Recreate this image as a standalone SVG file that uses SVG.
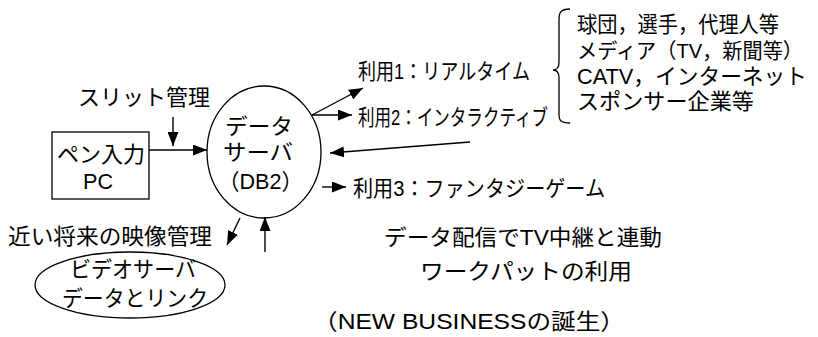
<svg xmlns="http://www.w3.org/2000/svg" width="818" height="337" viewBox="0 0 818 337">
<defs>
<marker id="ah" markerWidth="14" markerHeight="11" refX="14" refY="5.5" orient="auto" markerUnits="userSpaceOnUse">
<path d="M0,0 L14,5.5 L0,11 Z" fill="#000"/>
</marker>
</defs>
<style>
text{font-family:"Liberation Sans","Noto Sans CJK JP",sans-serif;font-size:22px;fill:#000}
.s{fill:none;stroke:#000;stroke-width:1.3}
.c{stroke:#000;stroke-width:1.4;fill:none;marker-end:url(#ah)}
</style>
<rect width="818" height="337" fill="#fff"/>
<g id="slit"><text x="78" y="105" textLength="132" lengthAdjust="spacingAndGlyphs">スリット管理</text></g>
<g id="pc"><rect class="s" x="52" y="132" width="97" height="67"/>
<text x="57" y="162" textLength="88" lengthAdjust="spacingAndGlyphs">ペン入力</text>
<text x="83" y="189" textLength="30" lengthAdjust="spacingAndGlyphs">PC</text></g>
<g id="db"><ellipse class="s" cx="264" cy="152" rx="57" ry="66"/>
<text x="225" y="134" textLength="68" lengthAdjust="spacingAndGlyphs">データ</text>
<text x="223" y="160" textLength="70" lengthAdjust="spacingAndGlyphs">サーバ</text>
<text x="218" y="189" textLength="85" lengthAdjust="spacingAndGlyphs">（DB2）</text></g>
<g id="use1"><text x="358" y="79" textLength="172" lengthAdjust="spacingAndGlyphs">利用1：リアルタイム</text></g>
<g id="use2"><text x="358" y="125" textLength="190" lengthAdjust="spacingAndGlyphs">利用2：インタラクティブ</text></g>
<g id="use3"><text x="353" y="196" textLength="252" lengthAdjust="spacingAndGlyphs">利用3：ファンタジーゲーム</text></g>
<g id="users">
<path class="s" d="M570,9 C560,9 559,13 559,20 L559,62 C559,68 557,70 553,70 C557,70 559,72 559,78 L559,114 C559,120 560,123 570,123"/>
<text x="577" y="32" textLength="202" lengthAdjust="spacingAndGlyphs">球団，選手，代理人等</text>
<text x="577" y="58" style="font-size:21px" textLength="226" lengthAdjust="spacingAndGlyphs">メディア（TV，新聞等）</text>
<text x="577" y="84" textLength="230" lengthAdjust="spacingAndGlyphs">CATV，インターネット</text>
<text x="577" y="109" textLength="177" lengthAdjust="spacingAndGlyphs">スポンサー企業等</text></g>
<g id="tv"><text x="384" y="245" textLength="278" lengthAdjust="spacingAndGlyphs">データ配信でTV中継と連動</text>
<text x="420" y="279" textLength="212" lengthAdjust="spacingAndGlyphs">ワークパットの利用</text></g>
<g id="future"><text x="8" y="244" textLength="204" lengthAdjust="spacingAndGlyphs">近い将来の映像管理</text></g>
<g id="video"><ellipse class="s" cx="130" cy="285" rx="95" ry="33"/>
<text x="70" y="277" textLength="126" lengthAdjust="spacingAndGlyphs">ビデオサーバ</text>
<text x="62" y="306" textLength="146" lengthAdjust="spacingAndGlyphs">データとリンク</text></g>
<g id="nb"><text x="313" y="329" textLength="312" lengthAdjust="spacingAndGlyphs">（NEW BUSINESSの誕生）</text></g>
<g id="connectors">
<line class="c" x1="173" y1="117" x2="173" y2="146"/>
<line class="c" x1="149" y1="150" x2="207" y2="150"/>
<line class="c" x1="312" y1="115" x2="363" y2="88"/>
<line class="c" x1="312" y1="115" x2="352" y2="115"/>
<line class="c" x1="470" y1="142" x2="330" y2="153"/>
<line class="c" x1="322" y1="187" x2="346" y2="187"/>
<line class="c" x1="240" y1="218" x2="227" y2="245"/>
<line class="c" x1="265" y1="252" x2="265" y2="217"/>
</g>
</svg>
